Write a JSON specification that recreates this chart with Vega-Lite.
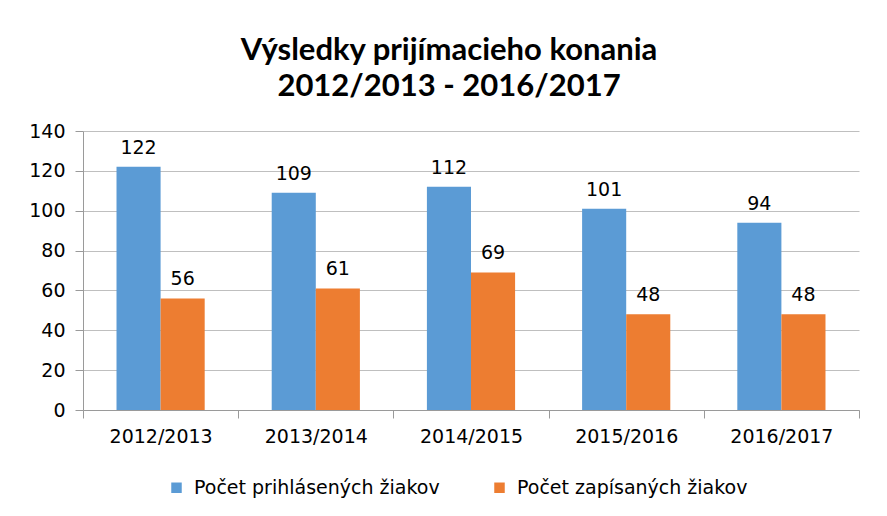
{
  "$schema": "https://vega.github.io/schema/vega-lite/v6.json",
  "width": 776,
  "height": 279,
  "autosize": {"type": "none"},
  "padding": {"left": 83, "top": 131, "right": 28, "bottom": 106},
  "background": "white",
  "title": {
    "text": ["Výsledky prijímacieho konania", "2012/2013 - 2016/2017"],
    "font": "Lato",
    "fontSize": 31,
    "fontWeight": "bold",
    "color": "#000000",
    "anchor": "middle",
    "frame": "group",
    "dx": -22,
    "offset": 19,
    "lineHeight": 36
  },
  "data": {
    "values": [
      {"rok": "2012/2013", "seria": "Počet prihlásených žiakov", "hodnota": 122},
      {"rok": "2012/2013", "seria": "Počet zapísaných žiakov", "hodnota": 56},
      {"rok": "2013/2014", "seria": "Počet prihlásených žiakov", "hodnota": 109},
      {"rok": "2013/2014", "seria": "Počet zapísaných žiakov", "hodnota": 61},
      {"rok": "2014/2015", "seria": "Počet prihlásených žiakov", "hodnota": 112},
      {"rok": "2014/2015", "seria": "Počet zapísaných žiakov", "hodnota": 69},
      {"rok": "2015/2016", "seria": "Počet prihlásených žiakov", "hodnota": 101},
      {"rok": "2015/2016", "seria": "Počet zapísaných žiakov", "hodnota": 48},
      {"rok": "2016/2017", "seria": "Počet prihlásených žiakov", "hodnota": 94},
      {"rok": "2016/2017", "seria": "Počet zapísaných žiakov", "hodnota": 48}
    ]
  },
  "encoding": {
    "x": {
      "field": "rok",
      "type": "nominal",
      "title": null,
      "scale": {"paddingInner": 0, "paddingOuter": 0},
      "axis": {
        "labelAngle": 0,
        "labelFont": "DejaVu Sans",
        "labelFontSize": 19,
        "labelColor": "#000000",
        "labelPadding": 9,
        "tickBand": "extent",
        "tickSize": 8,
        "tickColor": "#9a9a9a",
        "domainColor": "#9a9a9a",
        "grid": false
      }
    },
    "xOffset": {
      "field": "seria",
      "type": "nominal",
      "scale": {"paddingOuter": 0.76, "paddingInner": 0}
    },
    "y": {
      "field": "hodnota",
      "type": "quantitative",
      "title": null,
      "scale": {"domain": [0, 140], "nice": false},
      "axis": {
        "values": [0, 20, 40, 60, 80, 100, 120, 140],
        "labelFont": "DejaVu Sans",
        "labelFontSize": 19,
        "labelColor": "#000000",
        "labelPadding": 10,
        "tickSize": 8,
        "tickColor": "#9a9a9a",
        "domainColor": "#9a9a9a",
        "gridColor": "#bfbfbf",
        "grid": true
      }
    }
  },
  "layer": [
    {
      "mark": {"type": "bar"},
      "encoding": {
        "color": {
          "field": "seria",
          "type": "nominal",
          "scale": {
            "domain": ["Počet prihlásených žiakov", "Počet zapísaných žiakov"],
            "range": ["#5B9BD5", "#ED7D31"]
          },
          "legend": {
            "title": null,
            "orient": "none",
            "direction": "horizontal",
            "legendX": 84,
            "legendY": 347,
            "symbolType": "square",
            "symbolSize": 110,
            "symbolStrokeWidth": 0,
            "labelFont": "DejaVu Sans",
            "labelFontSize": 19,
            "labelColor": "#000000",
            "labelLimit": 400,
            "columnPadding": 50,
            "labelOffset": 8
          }
        }
      }
    },
    {
      "mark": {"type": "text", "baseline": "bottom", "dy": -9, "font": "DejaVu Sans", "fontSize": 19, "color": "#000000"},
      "encoding": {
        "text": {"field": "hodnota", "type": "quantitative"}
      }
    }
  ],
  "config": {
    "view": {"stroke": null}
  }
}
